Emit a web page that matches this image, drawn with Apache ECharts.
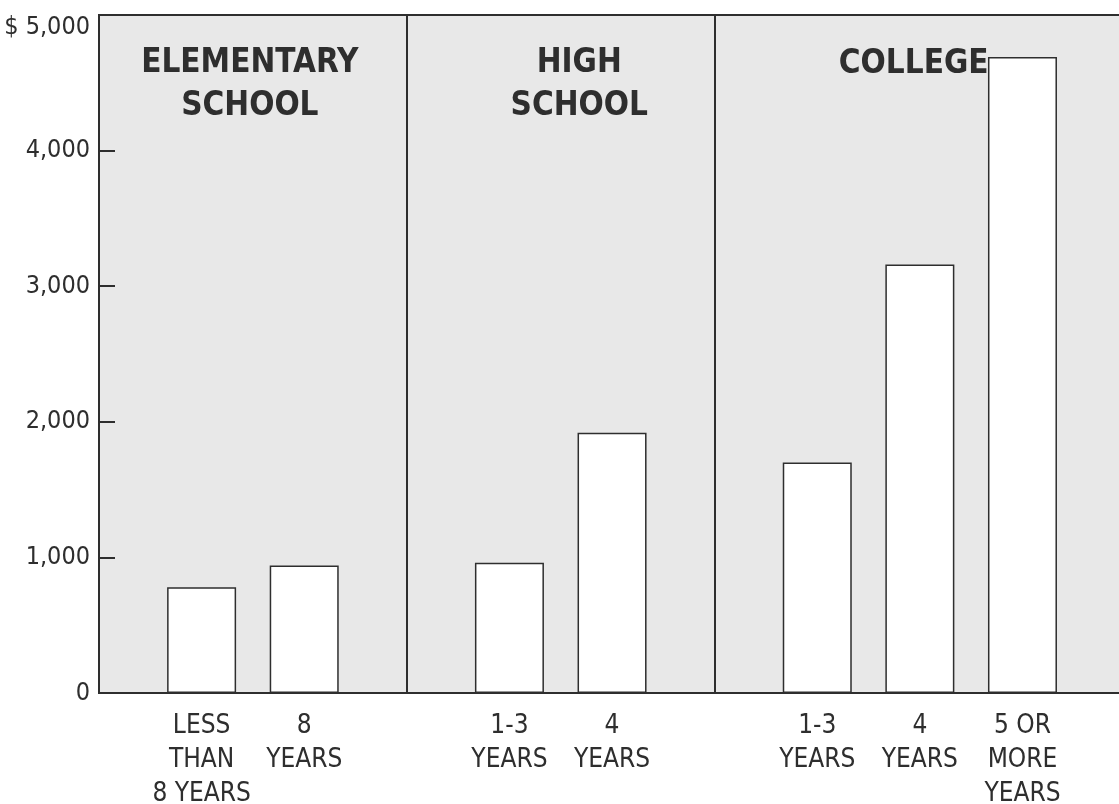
<!DOCTYPE html>
<html>
<head>
<meta charset="utf-8">
<script src="https://cdn.jsdelivr.net/npm/echarts@6/dist/echarts.min.js"></script>
<style>
html, body { margin: 0; padding: 0; background: #fff; }
#chart { width: 1119px; height: 804px; }
</style>
</head>
<body>
<div id="chart"></div>
<script>
// years of school completed, one label per bar
const categories = ['LESS\nTHAN\n8 YEARS', '8\nYEARS', '1-3\nYEARS', '4\nYEARS', '1-3\nYEARS', '4\nYEARS', '5 OR\nMORE\nYEARS']
// slot of each bar on the x scale (empty slots between school levels)
const slots = [1, 2, 4, 5, 7, 8, 9]
// dollars
const values = [780, 940, 960, 1920, 1700, 3160, 4690]
const groupNames = ['ELEMENTARY\nSCHOOL', 'HIGH\nSCHOOL', 'COLLEGE']
const groupBounds = [3, 6]
const yTicks = [0, 1000, 2000, 3000, 4000, 5000]

const FONT = "'Liberation Sans Narrow', 'DejaVu Sans Condensed', sans-serif"
const INK = '#2e2e2e'

// where the group titles sit, in data units
const groupAnchors = [[1.47, 4484], [4.68, 4484], [7.94, 4635]]

let chart = echarts.init(document.getElementById('chart'))

let option = {
    animation: false,
    grid: {
        left: 99,
        right: -3,
        top: 15,
        bottom: 111,
        outerBoundsMode: 'none',
        containLabel: false,
        show: true,
        backgroundColor: '#e8e8e8',
        borderColor: INK,
        borderWidth: 2
    },
    xAxis: {
        type: 'value',
        min: 0,
        max: 9.97,
        interval: 1,
        splitLine: { show: false },
        axisTick: { show: false },
        axisLine: { show: true, lineStyle: { color: INK, width: 2 } },
        axisLabel: {
            showMaxLabel: false,
            margin: 16,
            fontFamily: FONT,
            fontSize: 26,
            lineHeight: 34,
            color: INK,
            formatter: v => {
                let i = slots.indexOf(Math.round(v))
                return (Math.abs(v - Math.round(v)) < 1e-6 && i >= 0) ? categories[i] : ''
            }
        }
    },
    yAxis: {
        type: 'value',
        min: yTicks[0],
        max: yTicks[yTicks.length - 1],
        interval: 1000,
        splitLine: { show: false },
        axisLine: { show: true, lineStyle: { color: INK, width: 2 } },
        axisTick: { show: true, inside: true, length: 16, lineStyle: { color: INK, width: 2 } },
        axisLabel: {
            margin: 9,
            fontFamily: FONT,
            fontSize: 25,
            color: INK,
            formatter: v => v === 5000 ? '{top|$ 5,000}' : v.toLocaleString('en-US'),
            rich: {
                top: { fontFamily: FONT, fontSize: 25, color: INK, padding: [24, 0, 0, 0] }
            }
        }
    },
    series: [{
        type: 'bar',
        barWidth: 69,
        data: slots.map((s, i) => [s, values[i]]),
        itemStyle: { color: '#ffffff', borderColor: INK, borderWidth: 1.5 },
        markLine: {
            silent: true,
            symbol: 'none',
            label: { show: false },
            lineStyle: { color: INK, width: 2, type: 'solid' },
            data: groupBounds.map(x => ({ xAxis: x }))
        },
        markPoint: {
            silent: true,
            symbolSize: 0,
            label: {
                show: true,
                position: 'inside',
                fontFamily: FONT,
                fontWeight: 'bold',
                fontSize: 33,
                lineHeight: 43,
                color: INK,
                formatter: p => p.name
            },
            data: groupNames.map((n, i) => ({ name: n, coord: groupAnchors[i] }))
        }
    }]
}
chart.setOption(option)
</script>
</body>
</html>
